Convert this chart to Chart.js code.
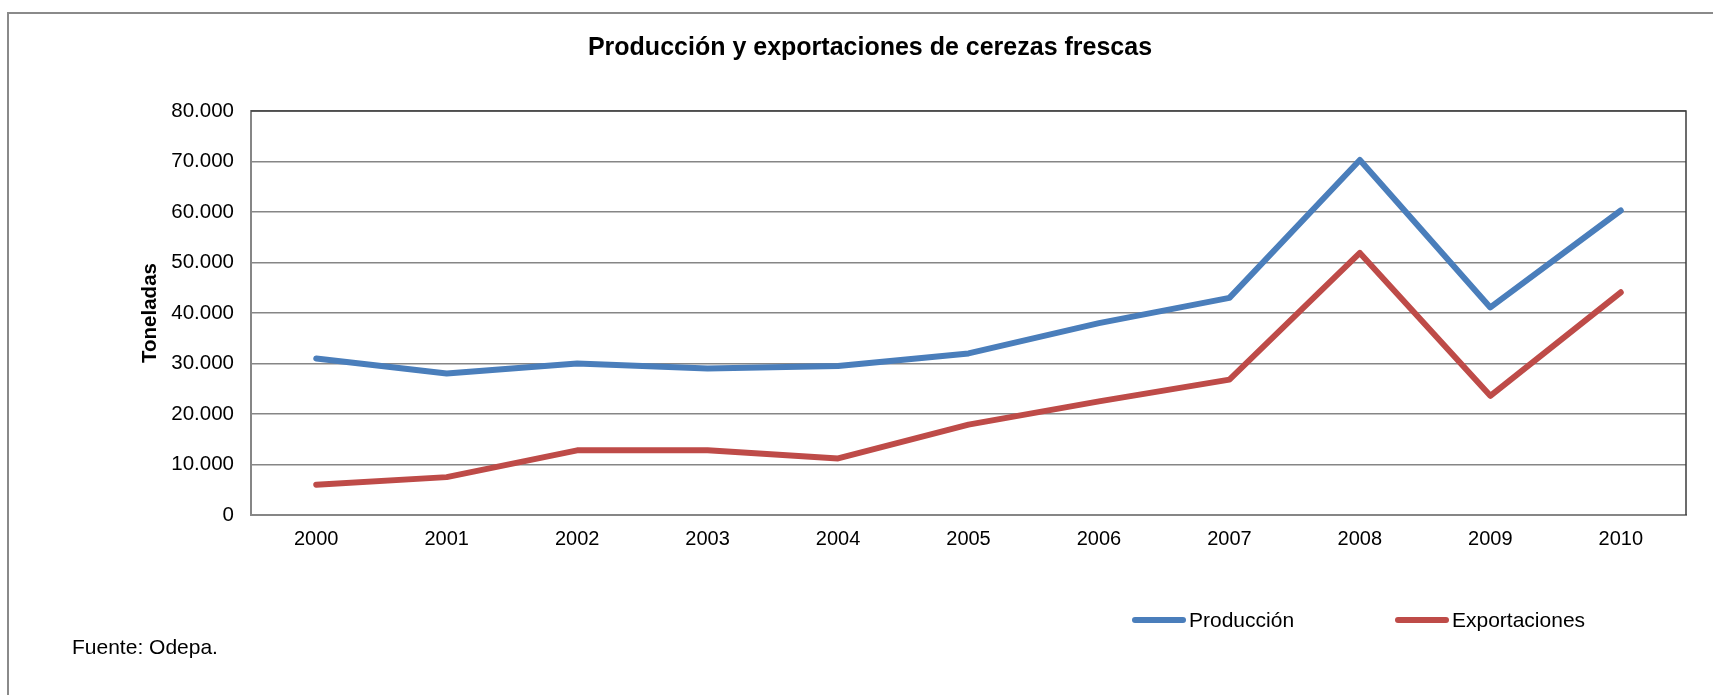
<!DOCTYPE html>
<html>
<head>
<meta charset="utf-8">
<script src="https://cdn.jsdelivr.net/npm/chart.js@4.4.1/dist/chart.umd.min.js"></script>
<style>
  html, body { margin: 0; padding: 0; background: #fff; }
  body { width: 1713px; height: 695px; overflow: hidden; position: relative; font-family: "Liberation Sans", Arial, sans-serif; }
  .frame { position: absolute; left: 7px; top: 12px; width: 1800px; height: 800px; border-left: 2px solid #8a8a8a; border-top: 2px solid #8a8a8a; }
  .wrap { position: absolute; left: 0; top: 0; width: 1713px; height: 695px; }
  .legend-item { position: absolute; height: 26px; line-height: 26px; font-size: 21px; color: #000; white-space: nowrap; }
  .legend-item .swatch { position: absolute; left: 0; top: 10px; width: 54px; height: 6px; border-radius: 3px; }
  .legend-item span { position: absolute; left: 57px; top: 0; }
  .source { position: absolute; left: 72px; top: 635px; font-size: 21px; color: #000; }
</style>
</head>
<body>
<div class="frame"></div>
<div class="wrap"><canvas id="myChart"></canvas></div>
<div id="legend"></div>
<div class="source">Fuente: Odepa.</div>
<script>
var years = ["2000", "2001", "2002", "2003", "2004", "2005", "2006", "2007", "2008", "2009", "2010"];
var produccion = [31000, 28000, 30000, 29000, 29500, 32000, 38000, 43000, 70300, 41100, 60300];
var exportaciones = [6000, 7500, 12800, 12800, 11200, 17900, 22500, 26800, 51900, 23600, 44100];
var seriesNames = ["Producción", "Exportaciones"];
var seriesColors = ["#4a7ebb", "#be4b48"];
var legendLeft = [1132, 1395];

function fmtMiles(v) {
    return String(v).replace(/\B(?=(\d{3})+(?!\d))/g, ".");
}

// top and right edge of the plot area
var plotBorder = {
    id: "plotBorder",
    beforeDatasetsDraw: function (chart) {
        var a = chart.chartArea;
        var ctx = chart.ctx;
        ctx.save();
        ctx.strokeStyle = "#3c3c3c";
        ctx.lineWidth = 1.5;
        ctx.beginPath();
        ctx.moveTo(a.left, a.top);
        ctx.lineTo(a.right, a.top);
        ctx.lineTo(a.right, a.bottom);
        ctx.stroke();
        ctx.restore();
    }
};

function serie(i, values) {
    return {
        label: seriesNames[i],
        data: values,
        borderColor: seriesColors[i],
        backgroundColor: seriesColors[i],
        borderWidth: 6,
        borderJoinStyle: "round",
        borderCapStyle: "round",
        pointRadius: 0,
        tension: 0
    };
}

var ctx = document.getElementById("myChart").getContext("2d");
var myChart = new Chart(ctx, {
    type: "line",
    data: {
        labels: years,
        datasets: [serie(0, produccion), serie(1, exportaciones)]
    },
    options: {
        responsive: true,
        maintainAspectRatio: false,
        animation: false,
        layout: { padding: { left: 54, right: 27, top: 0, bottom: 0 } },
        plugins: {
            legend: { display: false },
            tooltip: { enabled: false },
            title: {
                display: true,
                text: "Producción y exportaciones de cerezas frescas",
                color: "#000",
                font: { family: "'Liberation Sans', Arial, sans-serif", size: 25, weight: "bold" },
                padding: { top: 33, bottom: 48 }
            }
        },
        scales: {
            x: {
                offset: true,
                grid: { display: false, drawTicks: false },
                border: { display: true, color: "#868686", width: 2 },
                ticks: {
                    color: "#000",
                    padding: 12,
                    maxRotation: 0,
                    font: { family: "'Liberation Sans', Arial, sans-serif", size: 20 }
                },
                afterFit: function (scale) { scale.height = 180; }
            },
            y: {
                min: 0,
                max: 80000,
                grid: { color: "#868686", lineWidth: 1.6, drawTicks: false },
                border: { display: true, color: "#868686", width: 2 },
                ticks: {
                    stepSize: 10000,
                    color: "#000",
                    padding: 17,
                    font: { family: "'Liberation Sans', Arial, sans-serif", size: 20.5 },
                    callback: function (v) { return fmtMiles(v); }
                },
                title: {
                    display: true,
                    text: "Toneladas",
                    color: "#000",
                    font: { family: "'Liberation Sans', Arial, sans-serif", size: 20.5, weight: "bold" },
                    padding: { top: 84, bottom: 0 }
                },
                afterFit: function (scale) { scale.width = 197; }
            }
        }
    },
    plugins: [plotBorder]
});

// legend built from the series names and colours
var legend = document.getElementById("legend");
seriesNames.forEach(function (name, i) {
    var item = document.createElement("div");
    item.className = "legend-item";
    item.style.left = legendLeft[i] + "px";
    item.style.top = "607px";
    var sw = document.createElement("div");
    sw.className = "swatch";
    sw.style.background = seriesColors[i];
    var txt = document.createElement("span");
    txt.textContent = name;
    item.appendChild(sw);
    item.appendChild(txt);
    legend.appendChild(item);
});
</script>
</body>
</html>
